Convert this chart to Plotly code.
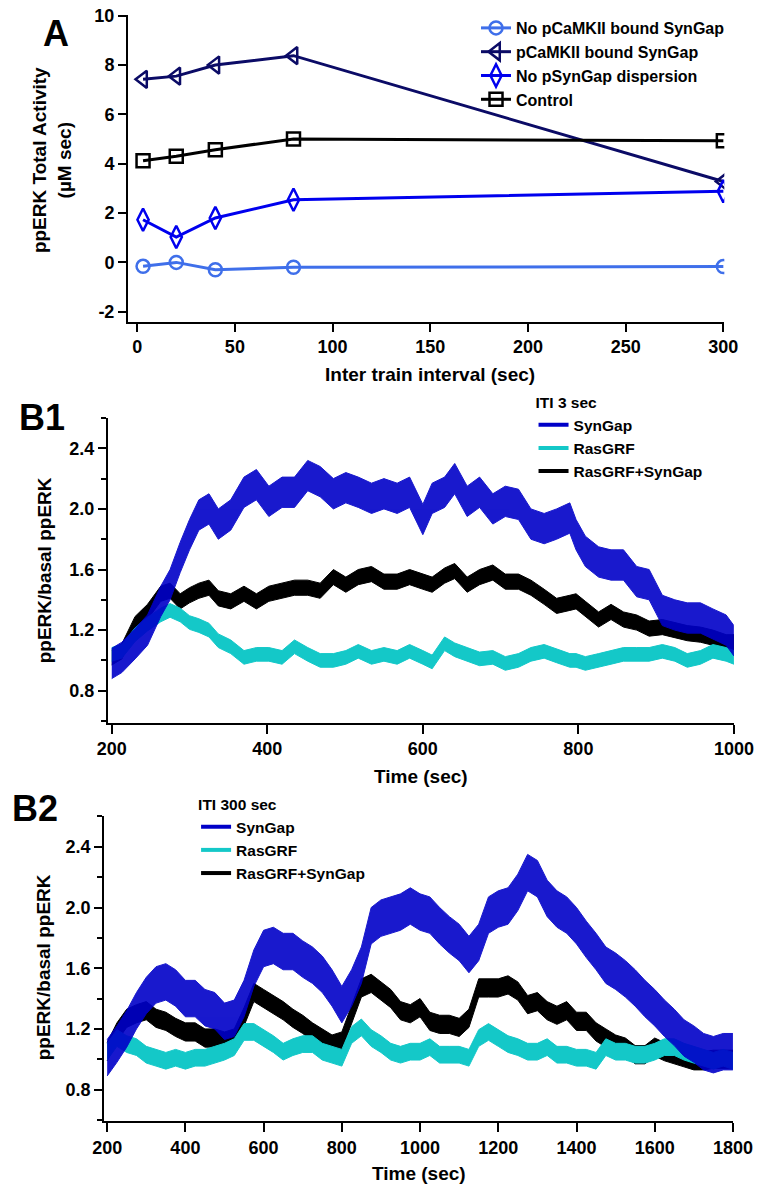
import plotly.graph_objects as go

W, H = 775, 1185
FONT = "Liberation Sans, Arial, sans-serif"

# ---------------- Panel A data ----------------
iti = [3, 20, 40, 80, 300]
no_pcamkii_bound = [-0.16, 0.0, -0.3, -0.2, -0.17]
pcamkii_bound = [7.42, 7.55, 8.0, 8.38, 3.28]
no_psyngap_dispersion = [1.73, 1.03, 1.8, 2.54, 2.88]
control = [4.12, 4.3, 4.57, 5.0, 4.93]
a_names = ["No pCaMKII bound SynGap", "pCaMKII bound SynGap",
           "No pSynGap dispersion", "Control"]
a_xticks = [0, 50, 100, 150, 200, 250, 300]
a_yticks = [-2, 0, 2, 4, 6, 8, 10]
a_yticktext = ["-2", "0", "2", "4", "6", "8", "10"]

# ---------------- Panel B1 data (ITI 3 sec) ----------------
b1_time = [200, 213, 230, 246, 263, 275, 288, 300, 312, 325, 337, 353, 370, 386,
           402, 419, 435, 452, 468, 485, 501, 517, 534, 550, 567, 583, 600, 612,
           628, 641, 657, 673, 690, 706, 723, 739, 756, 772, 789, 797, 809, 826,
           842, 858, 875, 891, 908, 924, 940, 957, 973, 990, 1000]
b1_syngap = [0.98, 1.02, 1.11, 1.2, 1.39, 1.5, 1.68, 1.83, 1.96, 2.0, 1.9, 1.96,
             2.11, 2.16, 2.05, 2.11, 2.11, 2.22, 2.18, 2.1, 2.14, 2.11, 2.07, 2.1,
             2.07, 2.11, 1.93, 2.07, 2.11, 2.2, 2.05, 2.11, 2.0, 2.05, 2.03, 1.9,
             1.87, 1.9, 1.94, 1.83, 1.72, 1.65, 1.63, 1.63, 1.52, 1.5, 1.33, 1.3,
             1.28, 1.28, 1.24, 1.2, 1.13]
b1_rasgrf = [1.04, 1.06, 1.17, 1.24, 1.3, 1.33, 1.3, 1.25, 1.23, 1.2, 1.13, 1.09,
             1.02, 1.04, 1.04, 1.02, 1.09, 1.04, 1.0, 1.0, 1.02, 1.06, 1.02, 1.04,
             1.02, 1.06, 1.02, 0.99, 1.11, 1.07, 1.04, 1.01, 1.02, 0.98, 1.0, 1.04,
             1.06, 1.03, 1.0, 1.0, 0.98, 1.0, 1.02, 1.04, 1.04, 1.04, 1.06, 1.04,
             1.0, 1.02, 1.06, 1.04, 1.02]
b1_both = [1.02, 1.06, 1.24, 1.32, 1.44, 1.46, 1.39, 1.43, 1.46, 1.48, 1.41, 1.39,
           1.44, 1.39, 1.44, 1.46, 1.48, 1.48, 1.46, 1.55, 1.5, 1.55, 1.57, 1.52,
           1.52, 1.55, 1.52, 1.5, 1.56, 1.59, 1.5, 1.55, 1.58, 1.52, 1.52, 1.48,
           1.42, 1.36, 1.38, 1.39, 1.34, 1.27, 1.32, 1.27, 1.25, 1.21, 1.22, 1.2,
           1.18, 1.17, 1.15, 1.12, 1.12]

# ---------------- Panel B2 data (ITI 300 sec) ----------------
b2_time = list(range(200, 1801, 25))
b2_syngap = [1.01, 1.1, 1.2, 1.32, 1.42, 1.49, 1.51, 1.47, 1.4, 1.4, 1.34, 1.32,
             1.25, 1.27, 1.4, 1.6, 1.73, 1.75, 1.71, 1.71, 1.66, 1.62, 1.56, 1.47,
             1.36, 1.47, 1.62, 1.88, 1.93, 1.95, 1.97, 2.01, 1.97, 1.95, 1.88, 1.82,
             1.77, 1.69, 1.77, 1.95, 1.99, 2.01, 2.1, 2.23, 2.19, 2.06, 1.99, 1.95,
             1.88, 1.79, 1.71, 1.62, 1.58, 1.53, 1.47, 1.4, 1.34, 1.27, 1.21, 1.14,
             1.1, 1.05, 1.03, 1.05, 1.05]
b2_rasgrf = [1.05, 1.14, 1.1, 1.08, 1.03, 1.01, 0.99, 1.01, 0.99, 1.01, 1.01, 1.03,
             1.05, 1.08, 1.18, 1.18, 1.14, 1.1, 1.05, 1.08, 1.1, 1.1, 1.05, 1.03,
             1.01, 1.16, 1.21, 1.14, 1.1, 1.05, 1.03, 1.05, 1.05, 1.08, 1.03, 1.03,
             1.03, 1.01, 1.14, 1.18, 1.14, 1.1, 1.08, 1.05, 1.05, 1.08, 1.03, 1.03,
             1.01, 1.01, 0.99, 1.08, 1.05, 1.05, 1.03, 1.03, 1.05, 1.08, 1.08, 1.05,
             1.03, 1.01, 0.99, 1.01, 0.99]
b2_both = [1.05, 1.18, 1.27, 1.3, 1.32, 1.27, 1.25, 1.21, 1.18, 1.18, 1.14, 1.14,
           1.12, 1.14, 1.28, 1.44, 1.4, 1.36, 1.32, 1.27, 1.23, 1.18, 1.14, 1.1,
           1.12, 1.3, 1.47, 1.5, 1.45, 1.4, 1.32, 1.3, 1.34, 1.25, 1.23, 1.23,
           1.21, 1.27, 1.47, 1.47, 1.47, 1.49, 1.45, 1.36, 1.38, 1.32, 1.29, 1.32,
           1.25, 1.25, 1.18, 1.14, 1.1, 1.08, 1.03, 1.03, 1.08, 1.05, 1.03, 1.01,
           0.99, 0.99, 1.0, 1.0, 1.0]

b_names = ["SynGap", "RasGRF", "RasGRF+SynGap"]
b1_xticks = [200, 400, 600, 800, 1000]
b2_xticks = [200, 400, 600, 800, 1000, 1200, 1400, 1600, 1800]
b_yticks = [0.8, 1.2, 1.6, 2.0, 2.4]
b_yticktext = ["0.8", "1.2", "1.6", "2.0", "2.4"]

# half-width of the noisy band of each trace, as seen in the picture
b1_spread = {"SynGap": 0.10, "RasGRF": 0.045, "RasGRF+SynGap": 0.05}
b2_spread = {"SynGap": 0.12, "RasGRF": 0.055, "RasGRF+SynGap": 0.06}

# ---------------- styling ----------------
C_LIGHTBLUE = "#3F6FEA"
C_NAVY = "#0B0B66"
C_BLUE = "#0000EE"
C_SYN = "#0000C8"
C_RAS = "#14C8C8"
C_BOTH = "#000000"


def px_x(x):
    return x / W


def px_y(y):
    return 1 - y / H


fig = go.Figure()

# Panel A traces
a_series = [no_pcamkii_bound, pcamkii_bound, no_psyngap_dispersion, control]
a_colors = [C_LIGHTBLUE, C_NAVY, C_BLUE, "#000000"]
a_symbols = ["circle-open", "triangle-left-open", "diamond-tall-open", "square-open"]
a_sizes = [13, 15, 16, 13]
for name, vals, col, sym, sz in zip(a_names, a_series, a_colors, a_symbols, a_sizes):
    fig.add_trace(go.Scatter(
        x=iti, y=vals, name=name, mode="lines+markers",
        line=dict(color=col, width=3),
        marker=dict(symbol=sym, size=sz, color=col, line=dict(color=col, width=2.5)),
        xaxis="x", yaxis="y", legend="legend"))


def add_band(t, v, s, color, xa, ya, opacity):
    upper = [a + s for a in v]
    lower = [a - s for a in v]
    fig.add_trace(go.Scatter(
        x=t + t[::-1], y=upper + lower[::-1], mode="lines", fill="toself",
        fillcolor=color, line=dict(color=color, width=1), opacity=opacity,
        hoverinfo="skip", showlegend=False, xaxis=xa, yaxis=ya))


# Panel B1 / B2 traces (draw order: black, cyan, blue)
for t, series, spread, xa, ya, leg in [
        (b1_time, {"SynGap": b1_syngap, "RasGRF": b1_rasgrf, "RasGRF+SynGap": b1_both},
         b1_spread, "x2", "y2", "legend2"),
        (b2_time, {"SynGap": b2_syngap, "RasGRF": b2_rasgrf, "RasGRF+SynGap": b2_both},
         b2_spread, "x3", "y3", "legend3")]:
    colors = {"SynGap": C_SYN, "RasGRF": C_RAS, "RasGRF+SynGap": C_BOTH}
    for nm in ["RasGRF+SynGap", "RasGRF", "SynGap"]:
        add_band(t, series[nm], spread[nm], colors[nm], xa, ya,
                 0.9 if nm == "SynGap" else 1.0)
    for nm in b_names:
        fig.add_trace(go.Scatter(
            x=[None], y=[None], name=nm, mode="lines",
            line=dict(color=colors[nm], width=4),
            xaxis=xa, yaxis=ya, legend=leg))

tickfont = dict(family=FONT, size=18, color="black", weight="bold")
common = dict(showline=True, linecolor="black", linewidth=2, ticks="outside",
              tickwidth=2, tickcolor="black", showgrid=False, zeroline=False,
              tickfont=tickfont, mirror=False, ticklabeloverflow="allow")

leg_font = dict(family=FONT, size=16, color="black", weight="bold")
bleg_font = dict(family=FONT, size=15.5, color="black", weight="bold")

fig.update_layout(
    width=W, height=H, margin=dict(l=0, r=0, t=0, b=0),
    paper_bgcolor="white", plot_bgcolor="white",
    font=dict(family=FONT, color="black"),
    xaxis=dict(**common, domain=[px_x(121), px_x(743)], range=[-4.7, 300.5],
               tickvals=a_xticks, ticklen=8, anchor="y"),
    yaxis=dict(**common, domain=[px_y(315), px_y(6)], range=[-2.4, 10.03],
               tickvals=a_yticks, ticktext=a_yticktext, ticklen=8, anchor="x"),
    xaxis2=dict(**common, domain=[px_x(100), px_x(753)], range=[195, 1000],
                tickvals=b1_xticks, ticklen=9, anchor="y2"),
    yaxis2=dict(**common, domain=[px_y(719), px_y(412)], range=[0.59, 2.601],
                tickvals=b_yticks, ticktext=b_yticktext, ticklen=8, anchor="x2",
                minor=dict(dtick=0.2, tick0=0.6, ticklen=5, tickwidth=2,
                           tickcolor="black", ticks="outside")),
    xaxis3=dict(**common, domain=[px_x(96), px_x(752)], range=[192, 1800],
                tickvals=b2_xticks, ticklen=9, anchor="y3"),
    yaxis3=dict(**common, domain=[px_y(1121), px_y(813.5)], range=[0.59, 2.601],
                tickvals=b_yticks, ticktext=b_yticktext, ticklen=8, anchor="x3",
                minor=dict(dtick=0.2, tick0=0.6, ticklen=5, tickwidth=2,
                           tickcolor="black", ticks="outside")),
    legend=dict(x=px_x(484), y=px_y(2), xanchor="left", yanchor="top",
                font=leg_font, bgcolor="rgba(0,0,0,0)", tracegroupgap=0),
    legend2=dict(x=px_x(544), y=px_y(382), xanchor="left", yanchor="top",
                 title=dict(text="ITI 3 sec", font=bleg_font),
                 font=bleg_font, bgcolor="rgba(0,0,0,0)", tracegroupgap=0),
    legend3=dict(x=px_x(192), y=px_y(787), xanchor="left", yanchor="top",
                 title=dict(text="ITI 300 sec", font=bleg_font),
                 font=bleg_font, bgcolor="rgba(0,0,0,0)", tracegroupgap=0),
)

title_font = dict(family=FONT, size=19, color="black", weight="bold")
letter_font = dict(family=FONT, size=36, color="black", weight="bold")
annots = [
    dict(text="A", x=px_x(46), y=px_y(25), font=letter_font),
    dict(text="B1", x=px_x(31), y=px_y(412), font=letter_font),
    dict(text="B2", x=px_x(24), y=px_y(806), font=letter_font),
    dict(text="ppERK Total Activity<br>(µM sec)", x=px_x(42), y=px_y(152),
         textangle=-90, font=title_font),
    dict(text="Inter train interval (sec)", x=px_x(436), y=px_y(368), font=title_font),
    dict(text="ppERK/basal ppERK", x=px_x(34), y=px_y(566), textangle=-90, font=title_font),
    dict(text="Time (sec)", x=px_x(427), y=px_y(773), font=title_font),
    dict(text="ppERK/basal ppERK", x=px_x(33), y=px_y(966), textangle=-90, font=title_font),
    dict(text="Time (sec)", x=px_x(425), y=px_y(1173), font=title_font),
]
for a in annots:
    fig.add_annotation(xref="paper", yref="paper", showarrow=False,
                       xanchor="center", yanchor="middle", **a)

fig.write_html(
    "out.html", config={"displayModeBar": False, "responsive": False},
    post_script=("document.documentElement.style.margin='0px';"
                 "document.body.style.margin='0px';"
                 "document.body.style.overflow='hidden';"))
